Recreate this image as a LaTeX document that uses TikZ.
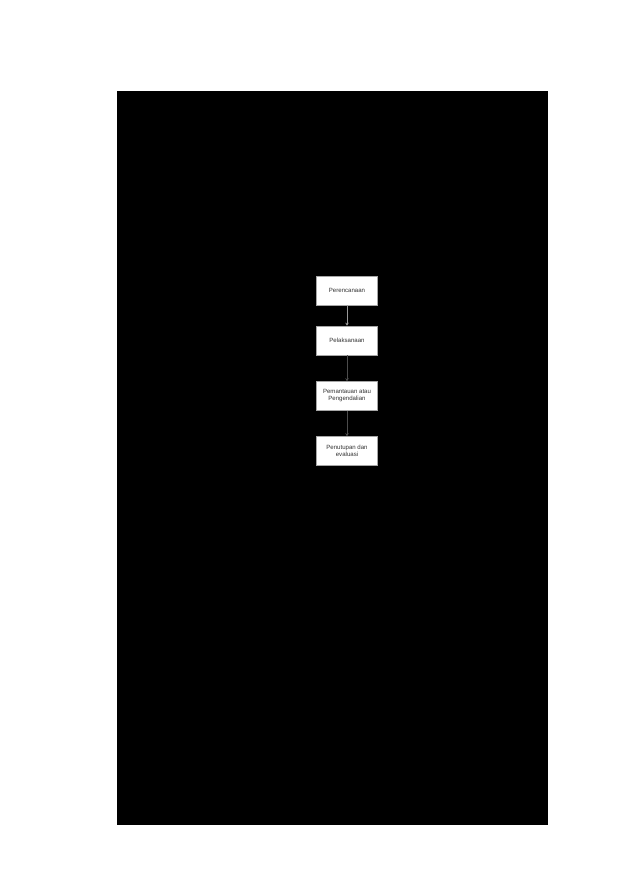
\documentclass[tikz,border=0pt]{standalone}
\usepackage{fontspec}
\setmainfont{Liberation Sans}
\usetikzlibrary{arrows.meta}
\begin{document}
\begin{tikzpicture}[x=1bp,y=-1bp,
  stepbox/.style={draw=gray!70, line width=0.6bp, fill=white, minimum width=61bp, minimum height=29bp,
    inner sep=1bp, align=center, font=\fontsize{6.1}{7}\selectfont, text=black!80},
  conn/.style={draw=black!70!white, line width=0.6bp, -{Stealth[length=3bp,width=3.5bp]}}]
\useasboundingbox (0,0) rectangle (620,877);
\fill[white] (0,0) rectangle (620,877);
\fill[black] (117,91) rectangle (548,825);
\node[stepbox] (a) at (347,290.5) {Perencanaan};
\node[stepbox] (b) at (347,340.5) {Pelaksanaan};
\node[stepbox] (c) at (347,396) {Pemantauan atau\\Pengendalian};
\node[stepbox] (d) at (347,451) {Penutupan dan\\evaluasi};
\draw[conn, draw=gray!80, fill=gray!60] (a) -- (b);
\draw[conn] (b) -- (c);
\draw[conn] (c) -- (d);
\end{tikzpicture}
\end{document}
